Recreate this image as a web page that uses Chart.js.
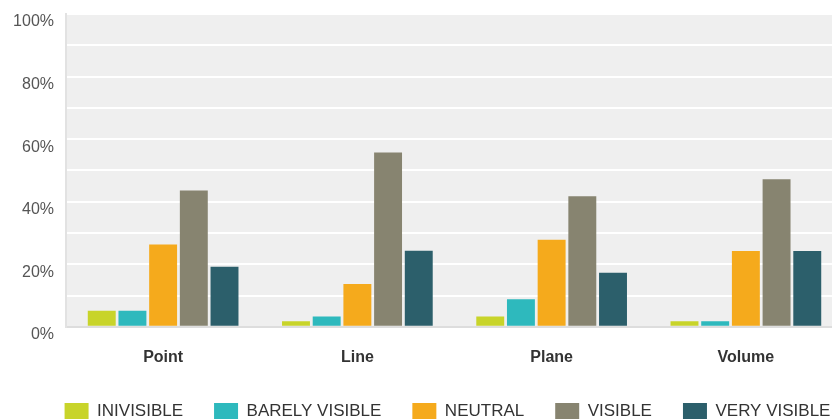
<!DOCTYPE html>
<html>
<head>
<meta charset="utf-8">
<script src="https://cdn.jsdelivr.net/npm/chart.js@4/dist/chart.umd.min.js"></script>
<style>
  html, body { margin: 0; padding: 0; background: #ffffff; overflow: hidden; width: 832px; height: 419px; }
  #wrap { position: absolute; left: 0; top: 0; width: 895px; height: 430px; }
</style>
</head>
<body>
<div id="wrap"><canvas id="c" width="895" height="430"></canvas></div>
<script>
const categories = ["Point", "Line", "Plane", "Volume"];
const seriesNames = ["INIVISIBLE", "BARELY VISIBLE", "NEUTRAL", "VISIBLE", "VERY VISIBLE"];
const invisible = [5.1, 1.8, 3.3, 1.8];
const barelyVisible = [5.1, 3.3, 8.8, 1.8];
const neutral = [26.3, 13.7, 27.8, 24.2];
const visible = [43.6, 55.7, 41.7, 47.2];
const veryVisible = [19.2, 24.3, 17.3, 24.2];
const seriesColors = ["#c8d42a", "#2eb9bd", "#f5aa1c", "#878470", "#2c5f6b"];
const yTickLabels = ["0%", "20%", "40%", "60%", "80%", "100%"];

const seriesValues = [invisible, barelyVisible, neutral, visible, veryVisible];

const plotBg = {
  id: 'plotBg',
  beforeDraw(chart) {
    const {ctx, chartArea: a} = chart;
    ctx.save();
    ctx.fillStyle = '#efefef';
    ctx.fillRect(a.left, a.top, a.right - a.left, a.bottom - a.top);
    ctx.restore();
  }
};

new Chart(document.getElementById('c'), {
  type: 'bar',
  data: {
    labels: categories,
    datasets: seriesNames.map((n, i) => ({
      label: n,
      data: seriesValues[i],
      backgroundColor: seriesColors[i],
      borderWidth: 0,
      categoryPercentage: 0.79,
      barPercentage: 0.91
    }))
  },
  options: {
    responsive: false,
    animation: false,
    devicePixelRatio: 1,
    layout: { padding: { left: 0, right: 0, top: 14, bottom: 0 } },
    plugins: {
      tooltip: { enabled: false },
      legend: {
        position: 'bottom',
        labels: {
          boxWidth: 24,
          boxHeight: 17,
          padding: 31,
          color: '#333333',
          font: { family: 'Liberation Sans, Arial, sans-serif', size: 17 }
        }
      }
    },
    scales: {
      x: {
        grid: { display: false, drawTicks: false },
        border: { display: true, color: '#dddddd', width: 2 },
        afterFit(scale) { scale.height = scale.height - 16; },
        ticks: {
          padding: 21,
          color: '#333333',
          font: { family: 'Liberation Sans, Arial, sans-serif', size: 16, weight: 'bold' }
        }
      },
      y: {
        min: 0, max: 100,
        afterFit(scale) { scale.width = 66; scale.paddingTop = 0; scale.paddingBottom = 0; },
        grid: { color: '#ffffff', lineWidth: 2, drawTicks: false },
        border: { display: true, color: '#e2e2e2', width: 2 },
        ticks: {
          stepSize: 10,
          padding: 12,
          labelOffset: 8,
          color: '#555555',
          font: { family: 'Liberation Sans, Arial, sans-serif', size: 16 },
          callback: (v) => (v % 20 === 0 ? yTickLabels[v / 20] : '')
        }
      },
      yRight: {
        position: 'right',
        display: true,
        min: 0, max: 100,
        afterFit(scale) { scale.width = 52; scale.paddingTop = 0; scale.paddingBottom = 0; },
        grid: { display: false, drawTicks: false },
        border: { display: false },
        ticks: { display: false }
      }
    }
  },
  plugins: [plotBg]
});
</script>
</body>
</html>
